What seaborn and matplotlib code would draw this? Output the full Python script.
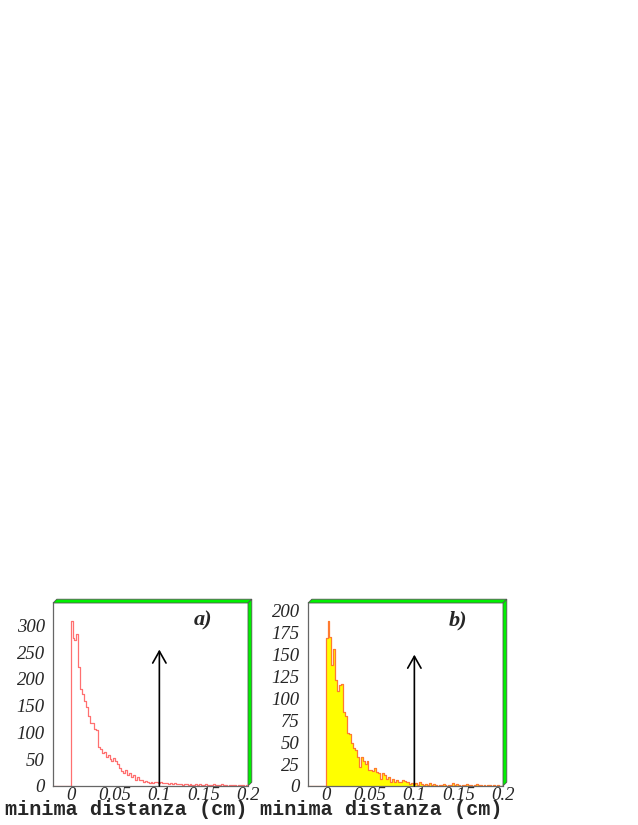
import numpy as np
import pandas as pd
import matplotlib
matplotlib.use("Agg")
import matplotlib.pyplot as plt
from matplotlib.patches import Polygon
from matplotlib.ticker import MultipleLocator, FixedLocator
import seaborn as sns

# ---------------- data ----------------
bin_edges = list(np.linspace(-0.02, 0.2, 101))     # 100 bins, ROOT-style range
first_filled_bin = 9                               # first bin with entries (x ~ 0)

counts_a = [309, 277, 273, 284, 223, 182, 172, 158, 148, 130, 118, 118, 106, 104,
            73, 70, 61, 64, 54, 58, 50, 47, 53, 46, 42,
            33, 28, 25, 29, 21, 24, 17, 21, 12, 17, 12, 11, 7, 10, 8, 5, 8, 5, 7,
            7, 6, 8, 5, 6, 5, 4, 5, 4, 6, 3,
            4, 3, 2, 4, 3, 2, 3, 1, 2, 3, 2, 4, 2, 1, 3, 2, 1, 2, 4, 1, 2, 1, 3,
            2, 1, 0, 2, 1, 2, 1, 0, 1, 2, 1, 0, 1]
counts_b = [169, 188, 170, 138, 156, 121, 108, 115, 116, 85, 80, 60, 59, 49, 43,
            41, 33, 22, 33, 28, 25, 28, 18, 18, 17,
            20, 16, 15, 8, 15, 13, 8, 10, 5, 8, 4, 7, 5, 4, 7, 6, 4, 4, 2, 3, 2,
            3, 1, 4, 2, 1, 2, 1, 3,
            1, 2, 1, 0, 1, 1, 2, 1, 0, 1, 1, 3, 1, 2, 1, 0, 1, 1, 2, 1, 1, 0, 1,
            2, 1, 1, 0, 1, 0, 1, 1, 0, 1, 0, 1, 0, 0]

panel_labels = ["a)", "b)"]
xlabel_text = "minima distanza (cm)"
x_ticks = [0, 0.05, 0.1, 0.15, 0.2]
x_ticklabels = ["0", "0.05", "0.1", "0.15", "0.2"]
y_ticks_a = [0, 50, 100, 150, 200, 250, 300]
y_ticks_b = [0, 25, 50, 75, 100, 125, 150, 175, 200]
ylim_a = 342
ylim_b = 209
arrow_x = 0.1
arrow_top_a = 255
arrow_top_b = 150


def to_frame(counts):
    e = np.array(bin_edges)
    centers = 0.5 * (e[:-1] + e[1:])
    w = np.zeros(len(centers))
    n = min(len(counts), len(centers) - first_filled_bin)
    w[first_filled_bin:first_filled_bin + n] = counts[:n]
    return pd.DataFrame({"x": centers, "w": w})


df_a = to_frame(counts_a)
df_b = to_frame(counts_b)

# ---------------- style ----------------
sns.set_style("white")
plt.rcParams["font.family"] = ["Liberation Serif", "DejaVu Serif"]

fig = plt.figure(figsize=(6.38, 8.25), dpi=100)
W, H = 638, 825
ax_a = fig.add_axes([53 / W, (825 - 786) / H, 195 / W, 183 / H])
ax_b = fig.add_axes([308 / W, (825 - 786) / H, 195 / W, 183 / H])

red_line = "#ff7070"
orange_line = "#ff7a30"

sns.histplot(data=df_a, x="x", weights="w", bins=bin_edges, element="step",
             fill=False, color=red_line, linewidth=0.9, ax=ax_a)
sns.histplot(data=df_b, x="x", weights="w", bins=bin_edges, element="step",
             fill=True, color="#ffff00", alpha=1.0, linewidth=0, ax=ax_b)
sns.histplot(data=df_b, x="x", weights="w", bins=bin_edges, element="step",
             fill=False, color=orange_line, linewidth=0.9, ax=ax_b)

for ax, yt, ylim, top, lab, minor in [
        (ax_a, y_ticks_a, ylim_a, arrow_top_a, panel_labels[0], 10),
        (ax_b, y_ticks_b, ylim_b, arrow_top_b, panel_labels[1], 5)]:
    ax.set_xlim(bin_edges[0], bin_edges[-1])
    ax.set_ylim(0, ylim)
    ax.set_xlabel("")
    ax.set_ylabel("")
    ax.xaxis.set_major_locator(FixedLocator(x_ticks))
    ax.set_xticklabels(x_ticklabels)
    ax.xaxis.set_minor_locator(MultipleLocator(0.01))
    ax.yaxis.set_major_locator(FixedLocator(yt))
    ax.set_yticklabels([str(v) for v in yt])
    ax.yaxis.set_minor_locator(MultipleLocator(minor))
    ax.tick_params(axis="both", which="major", direction="in", color="#888888",
                   width=0.8, labelsize=13.5)
    ax.tick_params(axis="x", which="major", length=9, pad=1)
    ax.tick_params(axis="y", which="major", length=6, pad=6)
    ax.tick_params(axis="x", which="minor", direction="in", length=4.5,
                   color="#999999", width=0.8)
    ax.tick_params(axis="y", which="minor", direction="in", length=3,
                   color="#999999", width=0.8)
    for t in ax.get_xticklabels() + ax.get_yticklabels():
        t.set_fontstyle("italic")
        t.set_family(["Liberation Serif", "DejaVu Serif"])
    for s in ["top", "right"]:
        ax.spines[s].set_visible(False)
    for s in ["left", "bottom"]:
        ax.spines[s].set_color("#666666")
        ax.spines[s].set_linewidth(0.9)

    # 3D frame border (green)
    dx, dy = 3.8 / 195, 3.8 / 183
    top_band = Polygon([(0, 1), (1, 1), (1 + dx, 1 + dy), (dx, 1 + dy)],
                       closed=True, transform=ax.transAxes, clip_on=False,
                       facecolor="#00f000", edgecolor="#555555", linewidth=0.6)
    right_band = Polygon([(1, 0), (1, 1), (1 + dx, 1 + dy), (1 + dx, dy)],
                         closed=True, transform=ax.transAxes, clip_on=False,
                         facecolor="#00f000", edgecolor="#555555", linewidth=0.6)
    ax.add_patch(top_band)
    ax.add_patch(right_band)

    # cut arrow
    ax.annotate("", xy=(arrow_x, top), xytext=(arrow_x, 0),
                arrowprops=dict(arrowstyle="->,head_length=0.85,head_width=0.48",
                                color="black", lw=1.2, shrinkA=0, shrinkB=0))

    ax.text(0.72, 0.905, lab, transform=ax.transAxes, ha="left", va="center",
            fontsize=16, fontweight="bold", fontstyle="italic",
            family=["Liberation Serif", "DejaVu Serif"])

    ax.text(1.0, -(815 - 786) / 183, xlabel_text, transform=ax.transAxes,
            ha="right", va="baseline", fontsize=14.5, fontweight="bold",
            family=["Liberation Mono", "DejaVu Sans Mono"])

fig.savefig("out.png", dpi=100, facecolor="white")
